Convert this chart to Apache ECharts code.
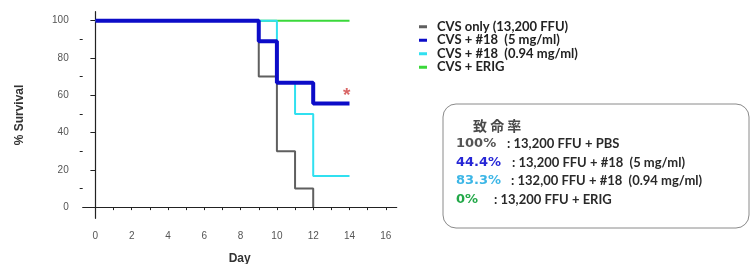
<!DOCTYPE html>
<html>
<head>
<meta charset="utf-8">
<script src="https://cdn.jsdelivr.net/npm/echarts@6/dist/echarts.min.js"></script>
<style>
html,body{margin:0;padding:0;background:#fff;}
#chart{width:751px;height:264px;}
</style>
</head>
<body>
<div id="chart"></div>
<script>
// ---- data ----
const seriesNames = ['CVS only (13,200 FFU)', 'CVS + #18  (5 mg/ml)', 'CVS + #18  (0.94 mg/ml)', 'CVS + ERIG'];
const cvsOnly   = [[0,100],[9,70],[10,30],[11,10],[12,0]];
const mab5      = [[0,100],[9,88.9],[10,66.7],[12,55.6],[14,55.6]];
const mab094    = [[0,100],[10,66.7],[11,50],[12,16.7],[14,16.7]];
const erig      = [[0,100],[14,100]];
const starPoint = [[13.85,62.5]];
const xTickLabels = [0,2,4,6,8,10,12,14,16];
const xTicks = [0,1,2,3,4,5,6,7,8,9,10,11,12,13,14,15,16];
const yTickLabels = [0,20,40,60,80,100];
const yMinorTicks = [10,30,50,70,90];
const boxTitle = '致 命 率';
const mortalityPct = ['100%', '44.4%', '83.3%', '0%'];
const mortalityDesc = [': 13,200 FFU + PBS', ': 13,200 FFU + #18  (5 mg/ml)', ': 132,00 FFU + #18  (0.94 mg/ml)', ': 13,200 FFU + ERIG'];

const colors = ['#5f5f5f', '#0c0cc8', '#30e0f0', '#3ad83a'];
const pctColors = ['#555555', '#2626d6', '#3cb6e6', '#22a848'];
const descX = [507, 512, 511, 494];
const rowY = [144, 162.5, 181, 199.5];

const chart = echarts.init(document.getElementById('chart'), null, {renderer:'canvas'});
const tickFont = {fontFamily:'Liberation Sans', fontSize:10, color:'#555'};

const graphics = [
  {type:'rect', shape:{x:443, y:104, width:306, height:124, r:13}, style:{fill:'none', stroke:'#8a8a8a', lineWidth:1}},
  {type:'text', x:473, y:126, style:{text:boxTitle, font:'bold 14px "Noto Sans CJK JP"', fill:'#4a4a4a', verticalAlign:'middle'}}
];
mortalityPct.forEach((p,i)=>{
  graphics.push({type:'text', x:456, y:rowY[i], style:{text:p, font:'bold 13px "DejaVu Sans"', fill:pctColors[i], verticalAlign:'middle'}});
  graphics.push({type:'text', x:descX[i], y:rowY[i], style:{text:mortalityDesc[i], font:'bold 13px Lato', fill:'#2a2a2a', verticalAlign:'middle'}});
});

const option = {
  animation:false,
  backgroundColor:'#fff',
  grid:{left:82.7, right:354.3, top:11.7, bottom:45.7, outerBoundsMode:'none', containLabel:false},
  legend:{
    data:seriesNames, orient:'vertical', left:414, top:15,
    icon:'rect', itemWidth:8, itemHeight:3, itemGap:0,
    textStyle:{fontFamily:'Lato', fontWeight:'bold', fontSize:13, color:'#222', lineHeight:13.5, padding:[0,0,0,5]}
  },
  xAxis:{
    type:'value', min:-0.7, max:16.6,
    name:'Day', nameLocation:'middle', nameGap:34,
    nameTextStyle:{fontFamily:'Liberation Sans', fontWeight:'bold', fontSize:12, color:'#333'},
    axisLine:{show:true, lineStyle:{color:'#222', width:1.2}},
    axisTick:{show:true, customValues:xTicks, length:3, lineStyle:{color:'#222'}},
    axisLabel:{customValues:xTickLabels, margin:13, ...tickFont},
    splitLine:{show:false}
  },
  yAxis:[{
    type:'value', min:-6, max:104.8,
    name:'% Survival', nameLocation:'middle', nameGap:57, nameRotate:90,
    nameTextStyle:{fontFamily:'Liberation Sans', fontWeight:'bold', fontSize:12, color:'#333'},
    axisLine:{show:true, lineStyle:{color:'#222', width:1.2}},
    axisTick:{show:true, customValues:yTickLabels, length:5, lineStyle:{color:'#222'}},
    axisLabel:{customValues:yTickLabels, margin:14, ...tickFont},
    splitLine:{show:false}
  },{
    type:'value', min:-6, max:104.8, position:'left',
    axisLine:{show:false},
    axisTick:{show:true, customValues:yMinorTicks, length:3, lineStyle:{color:'#222'}},
    axisLabel:{show:false}, splitLine:{show:false}
  }],
  series:[
    {name:seriesNames[3], type:'line', step:'end', data:erig, symbol:'none', color:colors[3], lineStyle:{width:2, color:colors[3]}, z:2},
    {name:seriesNames[2], type:'line', step:'end', data:mab094, symbol:'none', color:colors[2], lineStyle:{width:2, color:colors[2]}, z:3},
    {name:seriesNames[0], type:'line', step:'end', data:cvsOnly, symbol:'none', color:colors[0], lineStyle:{width:2, color:colors[0]}, z:4},
    {name:seriesNames[1], type:'line', step:'end', data:mab5, symbol:'none', color:colors[1], lineStyle:{width:4, color:colors[1]}, z:5},
    {name:'sig', type:'scatter', data:starPoint, symbol:'circle', symbolSize:1, z:6, silent:true,
      itemStyle:{color:'rgba(0,0,0,0)'},
      label:{show:true, formatter:'*', position:'inside', fontFamily:'Liberation Sans', fontWeight:'bold', fontSize:19, color:'#d04040', offset:[0,5]}}
  ],
  graphic:graphics
};
chart.setOption(option);
</script>
</body>
</html>
